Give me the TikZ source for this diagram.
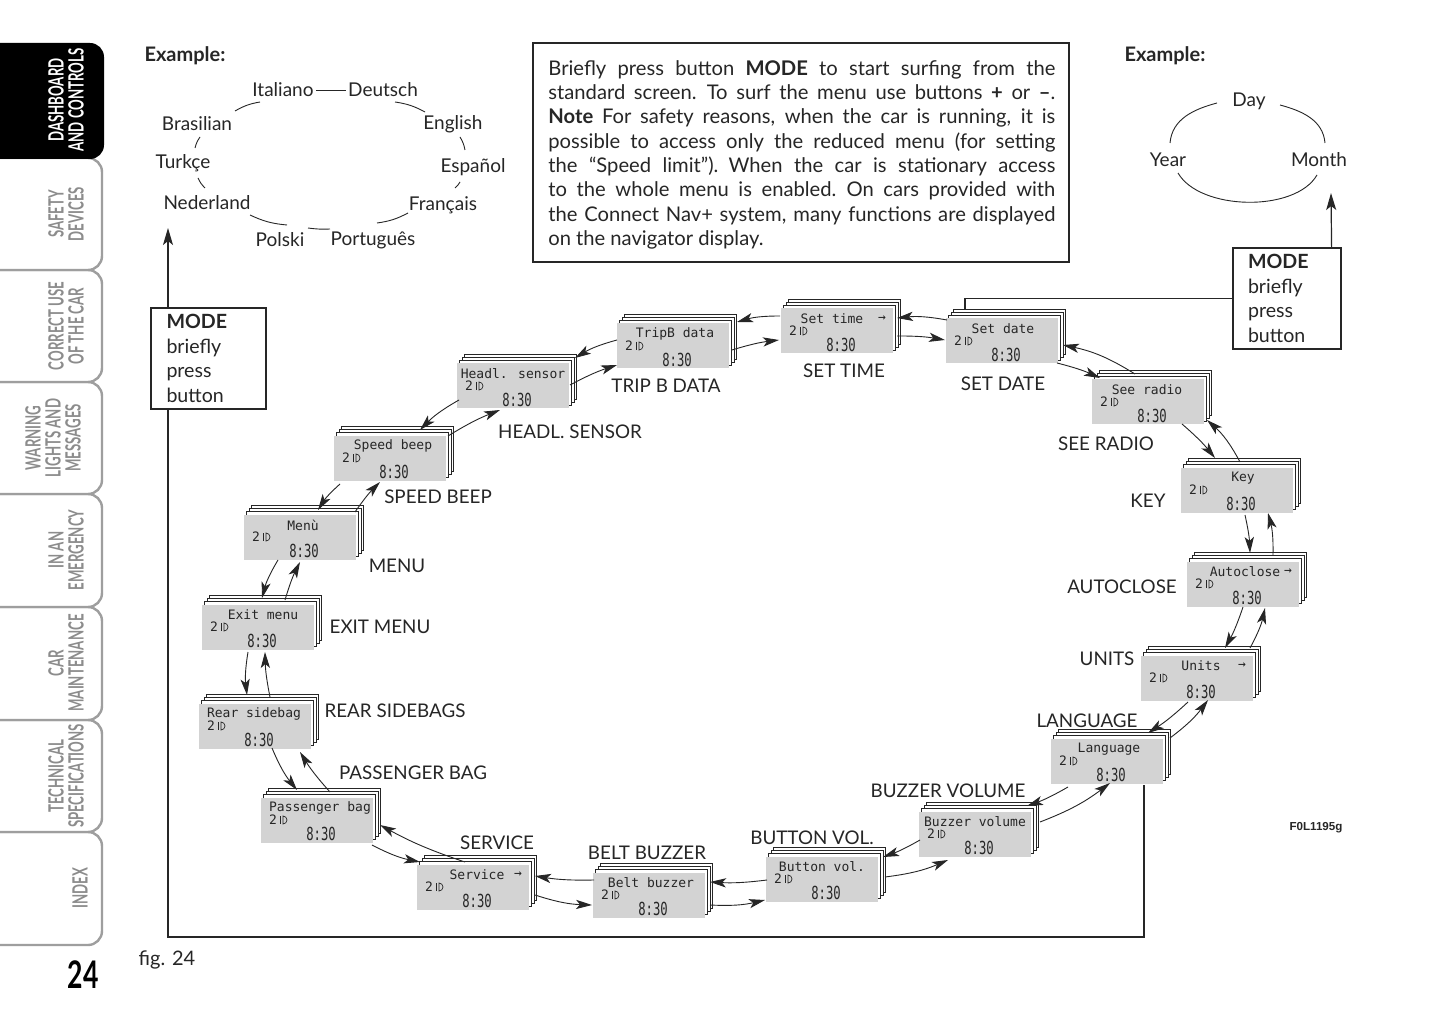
\documentclass[tikz,border=0pt]{standalone}
\usepackage{graphicx}
\usepackage{fontspec}
\setmainfont{Lato}
\newfontfamily\lcdfont{DejaVu Sans Mono}
\newfontfamily\arialfont{Liberation Sans}
\usetikzlibrary{arrows.meta,calc}
\definecolor{lcdgray}{HTML}{D3D3D3}
\definecolor{tabgray}{HTML}{9E9E9E}
\definecolor{tabtext}{HTML}{8C8C8C}
\definecolor{ink}{HTML}{262626}
\newcommand\cond[1]{\scalebox{0.63}[1]{#1}}
\newcommand\jline[1]{\hbox to 253.5pt{#1}}
\newcommand\loosespace{\spaceskip=0.25em plus 1em minus 0.08em\relax}
\tikzset{
  lcd/.style={fill=lcdgray, minimum width=56pt, minimum height=22.5pt, inner sep=0pt},
  lcdpage/.style={draw=ink, fill=white, line width=0.4pt},
  lcdtxt/.style={font=\lcdfont\fontsize{6.5}{7}\selectfont, inner sep=0pt, text=ink},
  lcdtime/.style={font=\lcdfont\fontsize{9}{10}\selectfont, inner sep=0pt, text=ink},
  lcdicon/.style={draw=ink, line width=0.35pt},
  marr/.style={-{Stealth[length=8pt,width=4.6pt,inset=2pt]}, line width=0.45pt, draw=ink},
  farr/.style={-{Stealth[length=8.5pt,width=5pt,inset=2pt]}, line width=0.6pt, draw=ink},
  lbl/.style={font=\fontsize{9.4}{11}\selectfont, inner sep=0pt, text=ink},
  word/.style={font=\fontsize{9.5}{11}\selectfont, inner xsep=1pt, inner ysep=2.5pt, text=ink},
  ring/.style={line width=0.45pt, draw=ink},
  frameline/.style={line width=0.6pt, draw=ink},
  modebox/.style={draw=ink, line width=0.6pt, fill=white, align=left, inner xsep=7.5pt, inner ysep=0pt,
    font=\fontsize{9.8}{12.3}\selectfont, text=ink},
  tabline/.style={draw=tabgray, line width=1.2pt},
  tabtxt/.style={rotate=90, align=center, inner sep=0pt, text=tabtext,
    font=\fontsize{10.5}{10}\selectfont\bfseries},
}
\newcommand\lcd[5]{%
  \foreach \o in {3,2,1}{\draw[lcdpage] ({#2-56+2.5*\o},{#3+22.5+3*\o}) rectangle ++(112,-45);}
  \node[lcd] (#1) at (#2,#3) {};
  \node[lcdtxt] (#1-t) at ([shift={(#5,12)}]#1.center) {#4};
  \node[lcdtxt] (#1-n) at ([shift={(-44,0)}]#1.center) {2};
  \draw[lcdicon] ([shift={(-37,4)}]#1.center) -- ++(0,-8);
  \draw[lcdicon] ([shift={(-34,-4)}]#1.center) -- ++(0,8) arc[start angle=90,end angle=-90,radius=4] -- cycle;
  \node[lcdtime] (#1-c) at ([shift={(4,-14)}]#1.center) {\scalebox{0.68}[1]{8:30}};
}
\newcommand\lcdarr[1]{\node[lcdtxt] (#1-a) at ([shift={(45,12)}]#1.center) {→};}
\newcommand\arr[5]{\draw[marr] ([shift={#2}]#1.center) to[bend left=#5] ([shift={#4}]#3.center);}
\begin{document}
\begin{tikzpicture}[x=0.5pt,y=0.5pt]
\fill[white] (0,0) rectangle (1445,-1026);
\useasboundingbox (0,0) rectangle (1445,-1026);

% ---------- side tabs ----------
\foreach \t/\b in {832/945,720/832,607/720,494/607,382/494,270/382,158/270}{
  \draw[tabline, fill=white, rounded corners=7pt] (-20,-\t) -- (102,-\t) -- (102,-\b) -- (-20,-\b);
}
\fill[black, rounded corners=7pt] (-20,-43) -- (104,-43) -- (104,-159) -- (-20,-159) -- cycle;
\node[tabtxt, text=white] (tab1) at (66,-100) {\cond{DASHBOARD}\\\cond{AND CONTROLS}};
\node[tabtxt] (tab2) at (66,-214) {\cond{SAFETY}\\\cond{DEVICES}};
\node[tabtxt] (tab3) at (66,-326) {\cond{CORRECT USE}\\\cond{OF THE CAR}};
\node[tabtxt] (tab4) at (53,-438) {\cond{WARNING}\\\cond{LIGHTS AND}\\\cond{MESSAGES}};
\node[tabtxt] (tab5) at (66,-550) {\cond{IN AN}\\\cond{EMERGENCY}};
\node[tabtxt] (tab6) at (66,-663) {\cond{CAR}\\\cond{MAINTENANCE}};
\node[tabtxt] (tab7) at (66,-776) {\cond{TECHNICAL}\\\cond{SPECIFICATIONS}};
\node[tabtxt] (tab8) at (80,-888) {\cond{INDEX}};
\node[inner sep=0pt, font=\fontsize{19}{20}\selectfont\bfseries] (pgnum) at (83,-975) {\scalebox{0.7}[1]{24}};
\node[lbl, font=\fontsize{10}{12}\selectfont] (fig) at (167,-960) {fig. 24};
\node[inner sep=0pt, font=\arialfont\bfseries\fontsize{5.8}{7}\selectfont, text=ink] (code) at (1316,-828) {F0L1195g};

% ---------- examples ----------
\node[lbl, font=\fontsize{10}{12}\selectfont\bfseries] (ex1) at (185,-56) {Example:};
\node[lbl, font=\fontsize{10}{12}\selectfont\bfseries] (ex2) at (1165,-56) {Example:};

\node[word] (it) at (283,-90) {Italiano};
\node[word] (de) at (383,-90) {Deutsch};
\node[word] (br) at (197,-124) {Brasilian};
\node[word] (en) at (453,-124) {English};
\node[word] (tr) at (183,-163) {Turkçe};
\node[word] (es) at (473,-167) {Español};
\node[word] (nl) at (207,-203) {Nederland};
\node[word] (fr) at (443,-205) {Français};
\node[word] (pl) at (280,-240) {Polski};
\node[word] (pt) at (373,-240) {Português};
\draw[ring] (it.east) -- (de.west);
\draw[ring] ([shift={(38,13)}]br.center) to[bend left=10] ([shift={(-23,-12)}]it.center);
\draw[ring] ([shift={(12,-12)}]de.center) to[bend left=10] ([shift={(-28,12)}]en.center);
\draw[ring] ([shift={(7,-13)}]en.center) to[bend left=10] ([shift={(-8,17)}]es.center);
\draw[ring] ([shift={(-13,-15)}]es.center) to[bend left=10] ([shift={(12,17)}]fr.center);
\draw[ring] ([shift={(-35,-8)}]fr.center) to[bend left=10] ([shift={(4,17)}]pt.center);
\draw[ring] ([shift={(28,12)}]pl.center) to[bend left=-5] ([shift={(-43,11)}]pt.center);
\draw[ring] ([shift={(43,-12)}]nl.center) to[bend left=-10] ([shift={(7,15)}]pl.center);
\draw[ring] ([shift={(15,-15)}]tr.center) to[bend left=-10] ([shift={(-2,15)}]nl.center);
\draw[ring] ([shift={(3,-13)}]br.center) to[bend left=-10] ([shift={(12,15)}]tr.center);

\node[word] (day) at (1249,-101) {Day};
\node[word] (year) at (1168,-160) {Year};
\node[word] (month) at (1319,-160) {Month};
\draw[ring] ([shift={(2,17)}]year.center) to[out=85,in=195] ([shift={(-32,-2)}]day.center);
\draw[ring] ([shift={(31,-4)}]day.center) to[out=-15,in=95] ([shift={(6,17)}]month.center);
\draw[ring] ([shift={(10,-13)}]year.center) to[out=-60,in=-120,looseness=0.8] ([shift={(-2,-15)}]month.center);

% ---------- info box ----------
\node[draw=ink, line width=0.6pt, minimum width=268pt, minimum height=109.5pt, inner sep=0pt] (infobox) at (801,-152.5) {};
\node[anchor=north west, inner sep=0pt, text width=253.5pt, text=ink,
      font=\fontsize{10.1}{12.15}\selectfont] (infotext) at (548,-60) {\loosespace
\jline{Briefly press button \textbf{MODE} to start surfing from the}
\jline{standard screen. To surf the menu use buttons \textbf{+} or \textbf{–}.}
\jline{\textbf{Note} For safety reasons, when the car is running, it is}
\jline{possible to access only the reduced menu (for setting}
\jline{the “Speed limit”). When the car is stationary access}
\jline{to the whole menu is enabled. On cars provided with}
\jline{the Connect Nav+ system, many functions are displayed}
\hbox{on the navigator display.}};

% ---------- displays ----------
\lcd{tripb}{673}{-346}{TripB data}{2}
\lcd{settime}{837}{-331}{Set time}{-5}\lcdarr{settime}
\lcd{setdate}{1002}{-341}{Set date}{1}
\lcd{seeradio}{1148}{-402}{See radio}{-1}
\lcd{key}{1237}{-490}{Key}{6}
\lcd{autoclose}{1243}{-584}{Autoclose}{2}\lcdarr{autoclose}
\lcd{units}{1197}{-678}{Units}{4}\lcdarr{units}
\lcd{lang}{1107}{-761}{Language}{2}
\lcd{buzzer}{975}{-834}{Buzzer volume}{0}
\lcd{buttonvol}{822}{-879}{Button vol.}{0}
\lcd{belt}{649}{-895}{Belt buzzer}{2}
\lcd{service}{473}{-887}{Service}{4}\lcdarr{service}
\lcd{passenger}{317}{-820}{Passenger bag}{3}
\lcd{rear}{255}{-726}{Rear sidebag}{-1}
\lcd{exitm}{258}{-627}{Exit menu}{5}
\lcd{menu}{300}{-537}{Menù}{3}
\lcd{speed}{390}{-458}{Speed beep}{3}
\lcd{headl}{513}{-386}{Headl. sensor}{0}

% ---------- labels ----------
\node[lbl] (l-tripb) at (666,-386) {TRIP B DATA};
\node[lbl] (l-settime) at (844,-371) {SET TIME};
\node[lbl] (l-setdate) at (1003,-384) {SET DATE};
\node[lbl] (l-seeradio) at (1106,-444) {SEE RADIO};
\node[lbl] (l-key) at (1148,-501) {KEY};
\node[lbl] (l-autoclose) at (1122,-587) {AUTOCLOSE};
\node[lbl] (l-units) at (1107,-659) {UNITS};
\node[lbl] (l-lang) at (1087,-721) {LANGUAGE};
\node[lbl] (l-buzzer) at (948,-791) {BUZZER VOLUME};
\node[lbl] (l-buttonvol) at (812,-838) {BUTTON VOL.};
\node[lbl] (l-belt) at (647,-853) {BELT BUZZER};
\node[lbl] (l-service) at (497,-843) {SERVICE};
\node[lbl] (l-passenger) at (413,-773) {PASSENGER BAG};
\node[lbl] (l-rear) at (395,-711) {REAR SIDEBAGS};
\node[lbl] (l-exitm) at (380,-627) {EXIT MENU};
\node[lbl] (l-menu) at (397,-566) {MENU};
\node[lbl] (l-speed) at (438,-497) {SPEED BEEP};
\node[lbl] (l-headl) at (570,-432) {HEADL. SENSOR};

% ---------- arrows between displays ----------
\arr{settime}{(-57,15)}{tripb}{(64,24)}{-8}
\arr{tripb}{(59,-4)}{settime}{(-58,-9)}{5}
\arr{setdate}{(-55,21)}{settime}{(60,13)}{-8}
\arr{settime}{(60,-5)}{setdate}{(-57,1)}{5}
\arr{seeradio}{(-13,28)}{setdate}{(61,-4)}{-10}
\arr{setdate}{(55,-22)}{seeradio}{(-48,24)}{5}
\arr{key}{(3,28)}{seeradio}{(59,-18)}{-10}
\arr{seeradio}{(34,-22)}{key}{(-22,32)}{5}
\arr{autoclose}{(30,29)}{key}{(31,-23)}{-8}
\arr{key}{(8,-25)}{autoclose}{(7,31)}{5}
\arr{units}{(53,30)}{autoclose}{(22,-24)}{-8}
\arr{autoclose}{(0,-23)}{units}{(28,30)}{5}
\arr{lang}{(63,23)}{units}{(11,-22)}{-8}
\arr{units}{(-9,-24)}{lang}{(41,28)}{5}
\arr{buzzer}{(65,12)}{lang}{(3,-22)}{-8}
\arr{lang}{(-39,-26)}{buzzer}{(52,28)}{5}
\arr{buttonvol}{(63,2)}{buzzer}{(-27,-26)}{-8}
\arr{buzzer}{(-55,-6)}{buttonvol}{(61,22)}{5}
\arr{belt}{(61,-10)}{buttonvol}{(-57,-21)}{-8}
\arr{buttonvol}{(-55,-1)}{belt}{(61,13)}{5}
\arr{service}{(62,-8)}{belt}{(-57,-10)}{-8}
\arr{belt}{(-55,15)}{service}{(62,11)}{5}
\arr{passenger}{(55,-25)}{service}{(-53,25)}{-8}
\arr{service}{(-8,25)}{passenger}{(63,-5)}{5}
\arr{rear}{(17,-22)}{passenger}{(-20,30)}{-8}
\arr{passenger}{(13,28)}{rear}{(45,-26)}{5}
\arr{exitm}{(-10,-25)}{rear}{(-8,31)}{-8}
\arr{rear}{(15,29)}{exitm}{(7,-25)}{5}
\arr{menu}{(-22,-23)}{exitm}{(4,29)}{-8}
\arr{exitm}{(27,27)}{menu}{(0,-25)}{5}
\arr{speed}{(-50,-26)}{menu}{(18,27)}{-8}
\arr{menu}{(55,25)}{speed}{(-10,-24)}{5}
\arr{headl}{(-54,-14)}{speed}{(30,28)}{-8}
\arr{speed}{(58,22)}{headl}{(-13,-24)}{5}
\arr{tripb}{(-56,6)}{headl}{(62,28)}{-8}
\arr{headl}{(57,1)}{tripb}{(-56,-19)}{5}

% ---------- MODE boxes and frame ----------
\coordinate (fBR) at (1144,-937);
\coordinate (fBL) at (168,-937);
\coordinate (nltip) at (168,-228);
\coordinate (monthtip) at (1331,-193);
\draw[frameline, farr] ([shift={(37,-24)}]lang.center) -- (fBR) -- (fBL) -- (nltip);
\node[modebox, minimum width=57.5pt, minimum height=50.5pt, text width=42pt] (modeL) at (208.5,-358.5)
  {\textbf{MODE}\\briefly\\press\\button};
\node[modebox, minimum width=54pt, minimum height=50.5pt, text width=39pt] (modeR) at (1287,-298.5)
  {\textbf{MODE}\\briefly\\press\\button};
\draw[frameline] ([shift={(-37,31)}]setdate.center) |- (modeR.west);
\draw[frameline, farr] ([xshift=-5pt]modeR.north east) -- (monthtip);
\end{tikzpicture}
\end{document}
